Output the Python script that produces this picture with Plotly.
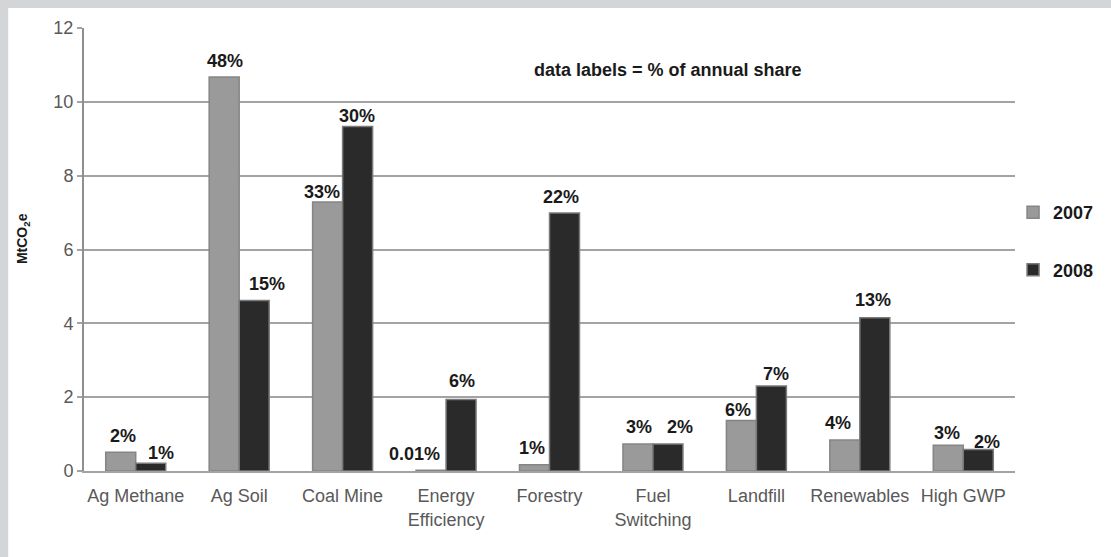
import plotly.graph_objects as go

categories = ["Ag Methane", "Ag Soil", "Coal Mine", "Energy<br>Efficiency", "Forestry",
              "Fuel<br>Switching", "Landfill", "Renewables", "High GWP"]
values_2007 = [0.51, 10.67, 7.29, 0.02, 0.17, 0.73, 1.37, 0.84, 0.70]
values_2008 = [0.21, 4.62, 9.33, 1.94, 6.99, 0.73, 2.30, 4.15, 0.58]
labels_2007 = ["2%", "48%", "33%", "0.01%", "1%", "3%", "6%", "4%", "3%"]
labels_2008 = ["1%", "15%", "30%", "6%", "22%", "2%", "7%", "13%", "2%"]
y_ticks = [0, 2, 4, 6, 8, 10, 12]

# label placement tweaks (pixels), style only
dx_2007 = [-13, -14, -21, -32, -18, -14, -18, -22, -16]
dx_2008 = [25, 28, 14, 16, 11, 27, 20, 13, 24]
gap_2007 = [9, 9, 3, 9, 10, 10, 3, 10, 5]
gap_2008 = [3, 9, 4, 11, 9, 10, 5, 11, 1]

FONT = "Liberation Sans, Arial, sans-serif"
LABEL_FONT = dict(family=FONT, size=18, color="#1a1a1a", weight="bold")

fig = go.Figure()
fig.add_trace(go.Bar(
    x=categories, y=values_2007, name="2007", legendgroup="a",
    marker=dict(color="#9a9a9a", line=dict(color="#858585", width=1.5)),
))
fig.add_trace(go.Bar(
    x=categories, y=values_2008, name="2008", legendgroup="b",
    marker=dict(color="#2a2a2a", line=dict(color="#7a7a7a", width=1.5)),
))

annotations = []
for cat, v, t, dx, g in zip(categories, values_2007, labels_2007, dx_2007, gap_2007):
    annotations.append(dict(x=cat, y=v, text=t, showarrow=False, xref="x", yref="y",
                            yanchor="bottom", xshift=dx, yshift=g - 5, font=LABEL_FONT))
for cat, v, t, dx, g in zip(categories, values_2008, labels_2008, dx_2008, gap_2008):
    annotations.append(dict(x=cat, y=v, text=t, showarrow=False, xref="x", yref="y",
                            yanchor="bottom", xshift=dx, yshift=g - 5, font=LABEL_FONT))
annotations.append(dict(x=0.627, y=0.905, xref="paper", yref="paper",
                        text="data labels = % of annual share", showarrow=False,
                        xanchor="center", yanchor="middle",
                        font=dict(family=FONT, size=18, color="#1a1a1a", weight="bold")))
annotations.append(dict(x=-0.0653, y=0.524, xref="paper", yref="paper",
                        text="MtCO<sub>2</sub>e", showarrow=False, textangle=-90,
                        xanchor="center", yanchor="middle",
                        font=dict(family=FONT, size=14, color="#1a1a1a", weight="bold")))

fig.update_layout(
    width=1111, height=557,
    margin=dict(l=84, r=93, t=28, b=86),
    paper_bgcolor="#d4d5d7",
    plot_bgcolor="white",
    barmode="group", bargap=0.42, bargroupgap=0,
    font=dict(family=FONT, size=18, color="#555555"),
    showlegend=True,
    legend=dict(x=0.9979, y=0.625, xanchor="left", yanchor="top",
                traceorder="grouped", tracegroupgap=31,
                bgcolor="rgba(0,0,0,0)",
                font=dict(family=FONT, size=18, color="#1a1a1a", weight="bold")),
    shapes=[dict(type="rect", xref="paper", yref="paper",
                 x0=-0.08137, x1=1.2, y0=-0.4, y1=1.0451,
                 fillcolor="white", line=dict(width=0), layer="below")],
    annotations=annotations,
)
fig.update_yaxes(
    range=[0, 12], tickvals=y_ticks,
    showgrid=True, gridcolor="#a3a3a3", gridwidth=1.5,
    showline=True, linecolor="#8f8f8f", linewidth=2,
    ticks="outside", ticklen=5, tickcolor="#a3a3a3", tickwidth=1.5,
    zeroline=False,
    tickfont=dict(family=FONT, size=18, color="#595959"),
)
fig.update_xaxes(
    showline=True, linecolor="#a3a3a3", linewidth=1.5,
    ticks="", ticklabelstandoff=8,
    tickfont=dict(family=FONT, size=18, color="#595959"),
)

fig.write_html("out.html", config={"displayModeBar": False},
               post_script="document.body.style.margin='0';document.body.style.overflow='hidden';")
